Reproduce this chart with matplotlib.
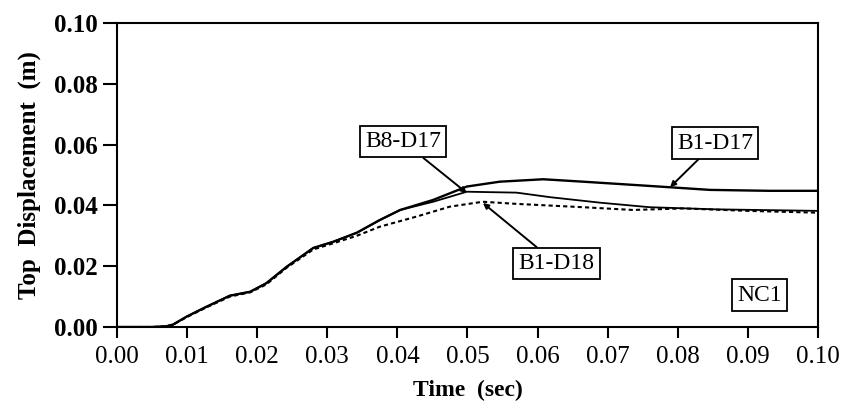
import numpy as np
import matplotlib
matplotlib.use("Agg")
import matplotlib.pyplot as plt

plt.rcParams['font.family'] = ['Liberation Serif', 'DejaVu Serif']

t_b1d17 = [0.0, 0.005, 0.007, 0.008, 0.010, 0.0128, 0.0161, 0.019, 0.0213, 0.0242,
           0.028, 0.0308, 0.0342, 0.0375, 0.0404, 0.0451, 0.0499, 0.0546, 0.0608,
           0.0665, 0.076, 0.0846, 0.0930, 0.100]
v_b1d17 = [0.0, 0.0, 0.0002, 0.0008, 0.0035, 0.0067, 0.0103, 0.0116, 0.0144, 0.0198,
           0.026, 0.028, 0.031, 0.0352, 0.0385, 0.0418, 0.0462, 0.0478, 0.0486,
           0.0478, 0.0464, 0.0451, 0.0448, 0.0448]

t_b8d17 = [0.0, 0.005, 0.007, 0.008, 0.010, 0.0128, 0.0161, 0.019, 0.0213, 0.0242,
           0.028, 0.0308, 0.0342, 0.0375, 0.0404, 0.0451, 0.0499, 0.057, 0.0618,
           0.0689, 0.076, 0.0855, 0.100]
v_b8d17 = [0.0, 0.0, 0.0002, 0.0008, 0.0035, 0.0067, 0.0103, 0.0116, 0.0144, 0.0198,
           0.026, 0.028, 0.031, 0.0352, 0.0385, 0.0412, 0.0445, 0.0442, 0.0427,
           0.0409, 0.0394, 0.0387, 0.0382]

t_b1d18 = [0.0, 0.005, 0.007, 0.008, 0.010, 0.0128, 0.0161, 0.019, 0.0213, 0.0242,
           0.028, 0.0308, 0.0342, 0.0375, 0.0427, 0.0475, 0.0522, 0.057, 0.0665,
           0.0736, 0.0808, 0.090, 0.100]
v_b1d18 = [0.0, 0.0, 0.0002, 0.0008, 0.0033, 0.0065, 0.0100, 0.0114, 0.0140, 0.0195,
           0.0255, 0.0275, 0.030, 0.033, 0.0363, 0.0396, 0.0412, 0.0405, 0.0394,
           0.0385, 0.039, 0.0382, 0.0376]

xticks = np.arange(0, 0.1001, 0.01)
yticks = np.arange(0, 0.1001, 0.02)

fig = plt.figure(figsize=(8.45, 4.07), dpi=100)
ax = fig.add_axes([117/845, 1 - 327/407, (818-117)/845, (327-23)/407])

ax.plot(t_b1d17, v_b1d17, color='black', lw=1.7)
ax.plot(t_b8d17, v_b8d17, color='black', lw=1.3)
ax.plot(t_b1d18, v_b1d18, color='black', lw=1.5, linestyle=(0, (2, 1.5)))

ax.set_xlim(0, 0.1)
ax.set_ylim(0, 0.1)
ax.set_xticks(xticks)
ax.set_yticks(yticks)
ax.set_xticklabels([f"{v:.2f}" for v in xticks])
ax.set_yticklabels([f"{v:.2f}" for v in yticks], fontweight='bold')
ax.tick_params(axis='x', direction='out', length=8, width=1.5, pad=6, labelsize=18)
ax.tick_params(axis='y', direction='out', length=10, width=1.5, pad=4, labelsize=18)
for s in ax.spines.values():
    s.set_linewidth(1.5)

ax.set_xlabel("Time  (sec)", fontsize=17, fontweight='bold', labelpad=8)
ax.set_ylabel("Top  Displacement  (m)", fontsize=18, fontweight='bold', labelpad=9)

box = dict(boxstyle='square,pad=0.22', fc='white', ec='black', lw=1.3)
arrow = dict(arrowstyle='-|>', color='black', lw=1.4, mutation_scale=8, shrinkA=0, shrinkB=0)
ax.annotate("B8-D17", xy=(0.0499, 0.0441), xytext=(0.0408, 0.0610), fontsize=17,
            ha='center', va='center', bbox=box, arrowprops=arrow)
ax.annotate("B1-D17", xy=(0.0789, 0.046), xytext=(0.0853, 0.0605), fontsize=17,
            ha='center', va='center', bbox=box, arrowprops=arrow)
ax.annotate("B1-D18", xy=(0.0522, 0.0408), xytext=(0.0627, 0.0209), fontsize=17,
            ha='center', va='center', bbox=box, arrowprops=arrow)
ax.text(0.0917, 0.0105, "NC1", fontsize=17, ha='center', va='center', bbox=box)

fig.savefig("out.png", dpi=100)
